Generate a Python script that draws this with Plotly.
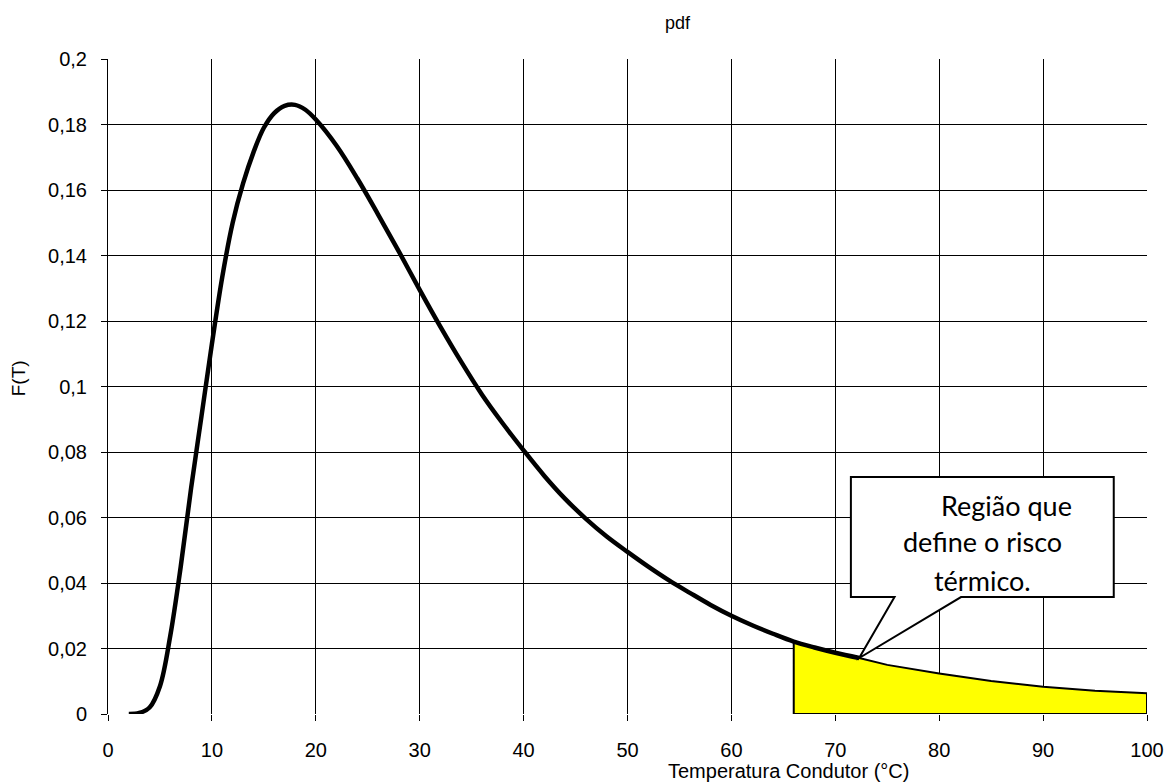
import plotly.graph_objects as go

# ---- data ----
temp_curve = [2, 3, 4, 5, 6, 7, 8, 9, 10, 11, 12, 13, 14, 15, 16, 17, 18, 19, 20,
              22, 24, 26, 28, 30, 32, 34, 36, 38, 40, 42, 44, 46, 48, 50, 52, 54, 56, 58,
              60, 62, 64, 66, 68, 70, 72.3]
pdf_curve = [0.0, 0.0003, 0.002, 0.0085, 0.024, 0.045, 0.069, 0.091, 0.113, 0.1335, 0.150,
             0.162, 0.1715, 0.179, 0.1835, 0.1857, 0.186, 0.1845, 0.1815,
             0.1735, 0.1635, 0.1525, 0.1412, 0.1295, 0.1182, 0.1075, 0.0975, 0.0887, 0.0805,
             0.0727, 0.0657, 0.0596, 0.0542, 0.0495, 0.0450, 0.0408, 0.0370, 0.0333,
             0.0300, 0.0271, 0.0245, 0.0221, 0.0203, 0.0187, 0.0171]

temp_region = [66, 68, 70, 72.3, 75, 80, 85, 90, 95, 100]
pdf_region = [0.0221, 0.0203, 0.0187, 0.0171, 0.0150, 0.0124, 0.0101, 0.0083, 0.0071, 0.0063]

x_ticks = list(range(0, 101, 10))
title_text = "pdf"
x_title = "Temperatura Condutor (°C)"
y_title = "F(T)"
callout_lines = ["Região que", "define o risco", "térmico."]

FONT = "Liberation Sans, Arial, sans-serif"

# plot area in screen pixels (page has an 8px body margin)
PX0, PX1, PY0, PY1 = 108, 1150, 59, 714


def px(sx):
    return (sx - PX0) / (PX1 - PX0)


def py(sy):
    return (PY1 - sy) / (PY1 - PY0)


fig = go.Figure()

# yellow risk region (closed polygon built from the region arrays)
poly_x = [temp_region[0]] + temp_region + [temp_region[-1], temp_region[0]]
poly_y = [0] + pdf_region + [0, 0]
fig.add_trace(go.Scatter(x=poly_x, y=poly_y, mode="lines", fill="toself",
                         fillcolor="#FFFF00", line=dict(color="black", width=2),
                         hoverinfo="skip", showlegend=False))

# pdf curve
fig.add_trace(go.Scatter(x=temp_curve, y=pdf_curve, mode="lines",
                         line=dict(color="black", width=4.5, shape="spline", smoothing=1.0),
                         showlegend=False))

# callout box with pointer to the curve
tip_x, tip_y = temp_curve[-1], pdf_curve[-1]
bx0, bx1, by0, by1 = 71.5, 96.8, 0.0357, 0.0724
p0, p1 = 75.7, 82.1
path = (f"M {bx0},{by1} L {bx1},{by1} L {bx1},{by0} L {p1},{by0} L {tip_x},{tip_y} "
        f"L {p0},{by0} L {bx0},{by0} Z")
fig.add_shape(type="path", path=path, xref="x", yref="y", fillcolor="white",
              line=dict(color="black", width=2), layer="above")

line_pos = [(1009, 505), (985, 541), (985, 580)]
for txt, (sx, sy) in zip(callout_lines, line_pos):
    fig.add_annotation(text=txt, x=px(sx), y=py(sy), xref="paper", yref="paper",
                       showarrow=False, xanchor="center", yanchor="middle",
                       font=dict(family="Lato, Carlito, sans-serif", size=27, color="black"))

# title and axis titles
fig.add_annotation(text=title_text, x=px(680), y=py(23), xref="paper", yref="paper",
                   showarrow=False, xanchor="center", yanchor="middle",
                   font=dict(family=FONT, size=18, color="black"))
fig.add_annotation(text=x_title, x=px(668), y=py(771), xref="paper", yref="paper",
                   showarrow=False, xanchor="left", yanchor="middle",
                   font=dict(family=FONT, size=20, color="black"))
fig.add_annotation(text=y_title, x=px(18), y=py(378), xref="paper", yref="paper",
                   showarrow=False, xanchor="center", yanchor="middle", textangle=-90,
                   font=dict(family=FONT, size=19, color="black"))

fig.update_layout(
    width=1168, height=776,
    margin=dict(l=100, r=26, t=51, b=70),
    paper_bgcolor="white", plot_bgcolor="white",
    separators=",.",
    font=dict(family=FONT, size=20, color="black"),
    xaxis=dict(range=[0, 100], tickvals=x_ticks, showgrid=True, gridcolor="black", gridwidth=1,
               zeroline=False, showline=False, ticks="outside", ticklen=6, tickcolor="black",
               tickfont=dict(size=20), ticklabelstandoff=12),
    yaxis=dict(range=[0, 0.2], dtick=0.02, showgrid=True, gridcolor="black", gridwidth=1,
               zeroline=False, showline=True, linecolor="black", linewidth=1,
               ticks="outside", ticklen=6, tickcolor="black", tickfont=dict(size=20),
               ticklabelstandoff=10),
)

fig.write_html("out.html")
